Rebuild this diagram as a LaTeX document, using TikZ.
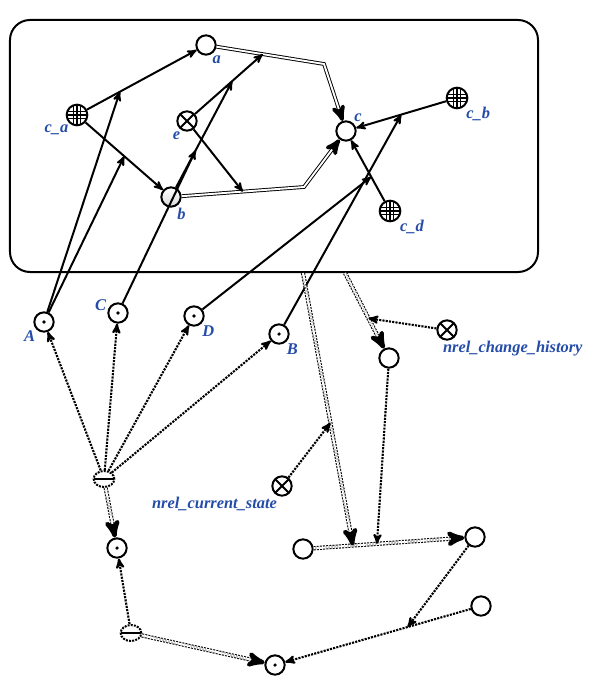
\documentclass[tikz,border=0pt]{standalone}
\usepackage{fontspec}
\setmainfont{Liberation Serif}
\usetikzlibrary{arrows, shapes.geometric, positioning}
\definecolor{lblue}{RGB}{36,76,168}

\begin{document}
\begin{tikzpicture}[x=0.03cm,y=-0.03cm,->,>=stealth',
	every edge/.append style={line width=1.7pt},
	every label/.append style={text=lblue,font=\bfseries\itshape\fontsize{14}{16}\selectfont,inner sep=1pt},
	el/.style={circle,draw,line width=1.7pt,minimum size=0.58cm,inner sep=0pt,fill=white},
	elb/.style={el,top color=white,bottom color=gray!30},
	st/.style={el,path picture={\fill[black] (path picture bounding box.center) circle (1.5pt);}},
	rel/.style={el,path picture={\draw[-,line width=1.6pt] (path picture bounding box.south west) -- (path picture bounding box.north east) (path picture bounding box.north west) -- (path picture bounding box.south east);}},
	cls/.style={el,minimum size=0.62cm,path picture={\foreach \d in {-1,0,1} \draw[-,line width=1pt] ([xshift=\d*2.9pt]path picture bounding box.north) -- ([xshift=\d*2.9pt]path picture bounding box.south) ([yshift=\d*2.9pt]path picture bounding box.west) -- ([yshift=\d*2.9pt]path picture bounding box.east);}},
	neg/.style={ellipse,draw,densely dotted,line width=1.7pt,minimum width=0.62cm,minimum height=0.48cm,inner sep=0pt,fill=white,path picture={\draw[-,solid,line width=1.7pt] (path picture bounding box.west) -- (path picture bounding box.east);}},
	mem/.style={line width=1.7pt},
	fz/.style={line width=1.8pt,densely dotted},
	com/.style={double,line width=.8pt,double distance=1.6pt},
	fzcom/.style={double,densely dotted,line width=.9pt,double distance=1.8pt}]
	\useasboundingbox (0,0) rectangle (591,680);
	
	\node[draw,-,line width=1.7pt,rounded corners=0.6cm,minimum width=15.84cm,minimum height=7.56cm] (scene) at (274,146) {};
	
	\node[el,label={-60:a}] (a) at (206,45) {};
	\node[cls,label={-130:c\_a}] (ca) at (77,115) {};
	\node[rel,label={-120:e}] (e) at (187,121) {};
	\node[elb,label={-62:b}] (b) at (171,197) {};
	\node[el,label={50:c}] (c) at (346,131) {};
	\node[cls,label={-45:c\_b}] (cb) at (457,98) {};
	\node[cls,label={-40:c\_d}] (cd) at (390,211) {};
	\coordinate (ac) at (324,64);
	\coordinate (bc) at (304,187);
	
	\node[st,label={-135:A}] (A) at (44,322) {};
	\node[st,label={175:C}] (C) at (118,313) {};
	\node[st,label={-50:D}] (D) at (194,316) {};
	\node[st,label={-52:B}] (B) at (279,334) {};
	
	\node[neg] (n1) at (104,479) {};
	\node[st] (v) at (117,548) {};
	\node[neg] (n2) at (131,633) {};
	\node[st] (z) at (275,665) {};
	
	\node[rel,label={[anchor=north west]-120:nrel\_change\_history}] (hist) at (447,330) {};
	\node[el] (r) at (389,358) {};
	\node[rel,label={[anchor=north east]-110:nrel\_current\_state}] (cur) at (282,486) {};
	\node[el] (s) at (303,549) {};
	\node[el] (t) at (475,537) {};
	\node[el] (u) at (481,606) {};
	
	\path (ca)
	edge[mem] node[coordinate,pos=.3] (ca-a) {} (a)
	edge[mem] node[coordinate,pos=.5] (ca-b) {} (b);
	\path (cb) edge[mem] node[coordinate] (cb-c) {} (c);
	\path (cd) edge[mem] node[coordinate,pos=.4] (cd-c) {} (c);
	\draw[com] (a) -- coordinate[pos=.43] (a-c) (ac) -- (c);
	\draw[com] (b) -- coordinate[pos=.5] (b-c) (bc) -- (c);
	
	\path (e)
	edge[mem] node[coordinate,pos=.55] (e-ac) {} (a-c)
	edge[mem] (b-c);
	\path (b) edge[mem] node[coordinate,pos=.35] (b-e) {} (e-ac);
	
	\path (A) edge[mem] (ca-a) edge[mem] (ca-b);
	\path (C) edge[mem] (b-e);
	\path (D) edge[mem] (cd-c);
	\path (B) edge[mem] (cb-c);
	
	\path (n1) edge[fz] (A) edge[fz] (C) edge[fz] (D) edge[fz] (B) edge[fzcom] (v);
	\path (n2) edge[fz] (v) edge[fzcom] (z);
	\path (s) edge[fzcom] node[coordinate,pos=.26] (s-t1) {} node[coordinate,pos=.42] (s-t2) {} (t);
	\path (u) edge[fz] node[coordinate,pos=.34] (u-z) {} (z);
	\path (t) edge[fz] (u-z);
	
	\path (scene.south -| s) edge[fzcom] node[coordinate,pos=.55] (sc-st) {} (s-t1);
	\path ([xshift=2.13cm]scene.south) edge[fzcom] node[coordinate,pos=.6] (sc-r) {} (r);
	\path (cur) edge[fz] (sc-st);
	\path (hist) edge[fz] (sc-r);
	\path (r) edge[fz] (s-t2);
	
\end{tikzpicture}
\end{document}
